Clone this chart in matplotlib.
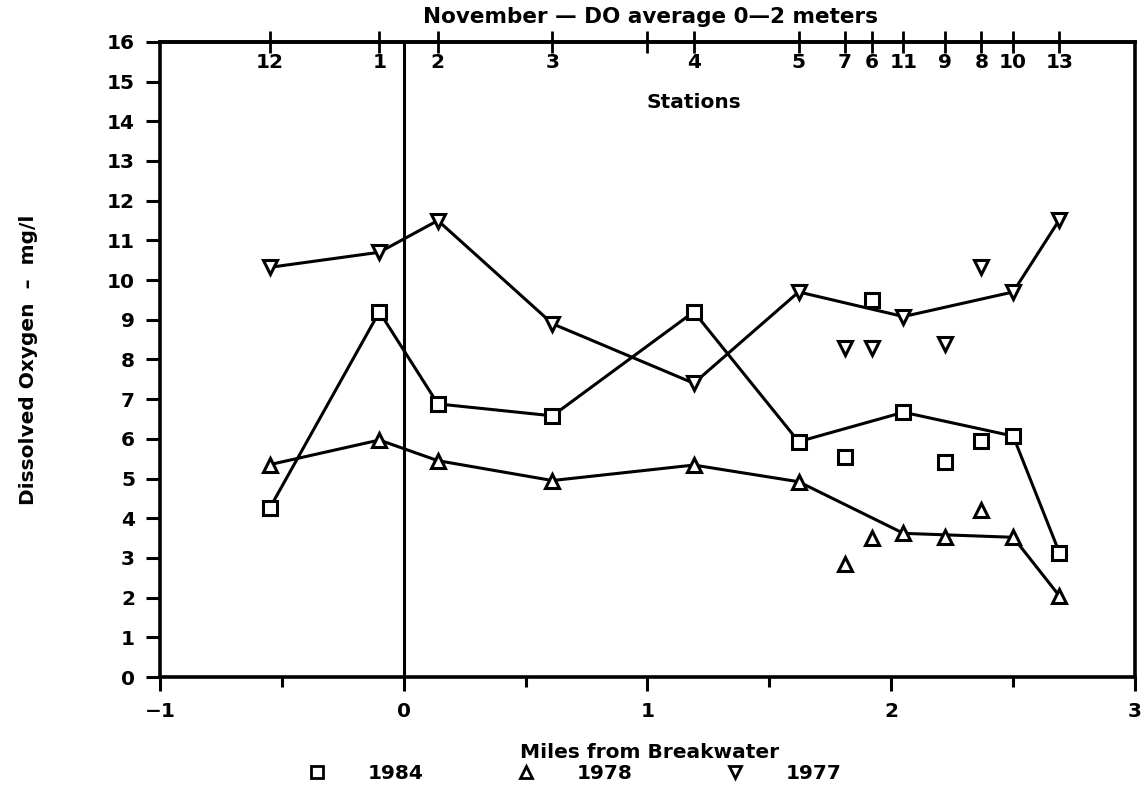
import matplotlib.pyplot as plt
from matplotlib.lines import Line2D
from matplotlib.ticker import MultipleLocator

plt.rcParams['font.family'] = ['DejaVu Sans']
plt.rcParams['font.weight'] = 'bold'

# station order along the shore and their distance (miles) from the breakwater
stations = ['12', '1', '2', '3', '4', '5', '7', '6', '11', '9', '8', '10', '13']
miles = [-0.55, -0.10, 0.14, 0.61, 1.19, 1.62, 1.81, 1.92, 2.05, 2.22, 2.37, 2.50, 2.69]

# dissolved oxygen, mg/l, per station (same order as above)
do_1984 = [4.25, 9.2, 6.88, 6.58, 9.2, 5.93, 5.55, 9.5, 6.67, 5.42, 5.94, 6.07, 3.13]
do_1978 = [5.35, 5.97, 5.45, 4.95, 5.34, 4.92, 2.85, 3.5, 3.62, 3.52, 4.22, 3.52, 2.04]
do_1977 = [10.32, 10.7, 11.5, 8.9, 7.4, 9.7, 8.28, 8.28, 9.08, 8.38, 10.32, 9.7, 11.52]

# stations joined by the line (the rest are lone points)
linked = ['12', '1', '2', '3', '4', '5', '11', '10', '13']

# extra unlabelled tick on the station axis
blank_tick = 1.0

fs = 14.5

fig = plt.figure(figsize=(11.45, 7.9), dpi=100)
ax = fig.add_axes([0.1397, 0.143, 0.8516, 0.804])

series = [(do_1984, 's', '1984'), (do_1978, '^', '1978'), (do_1977, 'v', '1977')]
idx = [stations.index(s) for s in linked]
for vals, mk, lab in series:
    ax.plot([miles[i] for i in idx], [vals[i] for i in idx], color='black', lw=2.2, zorder=2)
    ax.plot(miles, vals, linestyle='none', marker=mk, markersize=10,
            markerfacecolor='white', markeredgecolor='black', markeredgewidth=2.2, zorder=3)

ax.axvline(0, color='black', lw=2.2)

ax.set_xlim(-1, 3)
ax.set_ylim(0, 16)
ax.xaxis.set_minor_locator(MultipleLocator(0.5))
ax.yaxis.set_major_locator(MultipleLocator(1))
ax.set_xticks([-1, 0, 1, 2, 3])
ax.set_xticklabels(['\u22121', '0', '1', '2', '3'])
ax.tick_params(axis='both', which='major', direction='out', length=10, width=2.2,
               labelsize=fs, pad=8)
ax.tick_params(axis='x', which='minor', direction='out', length=7, width=2.2)
ax.tick_params(axis='y', which='minor', length=0)
for sp in ax.spines.values():
    sp.set_linewidth(2.6)

# station axis on top, labels inside the frame
top = ax.secondary_xaxis('top')
top.set_xticks(miles + [blank_tick])
top.set_xticklabels([''] * (len(miles) + 1))
top.tick_params(direction='inout', length=16, width=2.0)
top.spines['top'].set_linewidth(2.6)
trans = ax.get_xaxis_transform()
for m, s in zip(miles, stations):
    ax.text(m, 0.968, s, transform=trans, ha='center', va='center', fontsize=fs,
            fontweight='bold')
ax.text(1.19, 0.904, 'Stations', transform=trans,
        ha='center', va='center', fontsize=fs, fontweight='bold')

fig.text(0.568, 0.978, 'November \u2014 DO average 0\u20142 meters', ha='center', va='center',
         fontsize=15.5, fontweight='bold')
ax.set_ylabel('Dissolved Oxygen  \u2013  mg/l', fontsize=fs, fontweight='bold', labelpad=50)
fig.text(0.567, 0.048, 'Miles from Breakwater', ha='center', va='center',
         fontsize=fs, fontweight='bold')

handles = [Line2D([], [], linestyle='none', marker=mk, markersize=8, markerfacecolor='white',
                  markeredgecolor='black', markeredgewidth=2) for _, mk, _ in series]
fig.legend(handles, [lab for _, _, lab in series], loc='center', ncol=3,
           bbox_to_anchor=(0.497, 0.021), frameon=False, fontsize=fs,
           handletextpad=1.5, columnspacing=4.1, borderpad=0)

fig.savefig('out.png', dpi=100)
